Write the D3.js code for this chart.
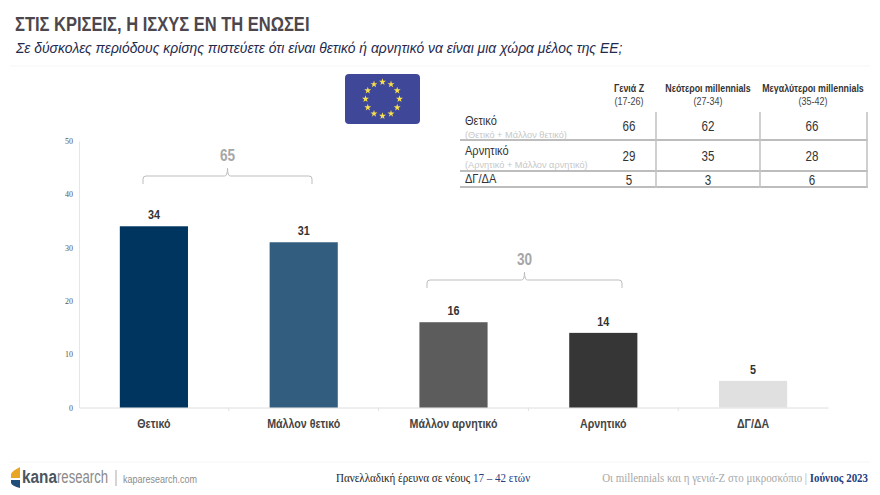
<!DOCTYPE html>
<html lang="el">
<head>
<meta charset="utf-8">
<script src="https://cdn.jsdelivr.net/npm/d3@7"></script>
<style>
  html, body { margin: 0; background: #fff; }
  svg { display: block; }
  text { font-family: "Liberation Sans", Arial, sans-serif; }
  text.serif { font-family: "Liberation Serif", serif; }
</style>
</head>
<body>
<svg id="chart" width="880" height="495"></svg>
<script>
const categories = ["Θετικό", "Μάλλον θετικό", "Μάλλον αρνητικό", "Αρνητικό", "ΔΓ/ΔΑ"];
const values = [34, 31, 16, 14, 5];
const barColors = ["#00355f", "#325d7f", "#5c5c5c", "#363636", "#e0e0e0"];
const yTicks = [0, 10, 20, 30, 40, 50];

// brackets above the bars
const groupTotals = [65, 30];

const tableHeads = ["Γενιά Ζ", "Νεότεροι millennials", "Μεγαλύτεροι millennials"];
const tableAges = ["(17-26)", "(27-34)", "(35-42)"];
const rowLabels = ["Θετικό", "Αρνητικό", "ΔΓ/ΔΑ"];
const rowNotes = ["(Θετικό + Μάλλον θετικό)", "(Αρνητικό + Μάλλον αρνητικό)", ""];
const genZ = [66, 29, 5];
const youngerMill = [62, 35, 3];
const olderMill = [66, 28, 6];

const svg = d3.select("#chart");

// no narrow font installed, so squeeze the text around its own x
function squeeze(sel, k) {
  sel.attr("transform", function () {
    const px = +this.getAttribute("x") || 0;
    return `translate(${px},0) scale(${k},1) translate(${-px},0)`;
  });
  return sel;
}

// header
svg.append("text").attr("x", 15).attr("y", 31)
  .attr("font-size", 21).attr("font-weight", 700).attr("fill", "#4d474d")
  .text("ΣΤΙΣ ΚΡΙΣΕΙΣ, Η ΙΣΧΥΣ ΕΝ ΤΗ ΕΝΩΣΕΙ")
  .call(squeeze, 0.787);
svg.append("text").attr("x", 16).attr("y", 53)
  .attr("font-size", 14.3).attr("font-style", "italic").attr("fill", "#1f2a4d")
  .text("Σε δύσκολες περιόδους κρίσης πιστεύετε ότι είναι θετικό ή αρνητικό να είναι μια χώρα μέλος της ΕΕ;")
  .call(squeeze, 0.97);
svg.append("line").attr("x1", 10).attr("x2", 870).attr("y1", 66).attr("y2", 66).attr("stroke", "#f6f6f6");

// scales
const x = d3.scaleBand().domain(categories).range([79, 828]);
const y = d3.scaleLinear().domain([0, 50]).range([407.5, 141]);
const barW = x.bandwidth() * 0.455;
const cx = d => x(d) + x.bandwidth() / 2;

// axes
const yAxis = svg.append("g").attr("transform", "translate(79,0)")
  .call(d3.axisLeft(y).tickValues(yTicks).tickSize(0).tickPadding(6));
yAxis.select("path").attr("stroke", "#e6e6e6");
yAxis.selectAll("text").attr("class", "serif").attr("font-size", 8).attr("fill", "#555");

const xAxis = svg.append("g").attr("transform", "translate(0,407.5)")
  .call(d3.axisBottom(x).tickSize(0).tickPadding(11));
xAxis.select("path").attr("stroke", "#dedede");
xAxis.selectAll("text").attr("font-size", 13).attr("font-weight", 700).attr("fill", "#444").call(squeeze, 0.82);
svg.append("g").selectAll("line").data(categories.slice(1)).join("line")
  .attr("x1", d => x(d)).attr("x2", d => x(d)).attr("y1", 407.5).attr("y2", 411).attr("stroke", "#e2e2e2");

// bars
svg.append("g").selectAll("rect").data(categories).join("rect")
  .attr("x", d => cx(d) - barW / 2).attr("width", barW)
  .attr("y", (d, i) => y(values[i])).attr("height", (d, i) => y(0) - y(values[i]))
  .attr("fill", (d, i) => barColors[i]);
svg.append("g").selectAll("text").data(categories).join("text")
  .attr("x", cx).attr("y", (d, i) => y(values[i]) - 7)
  .attr("text-anchor", "middle").attr("font-size", 13.5).attr("font-weight", 700).attr("fill", "#333")
  .text((d, i) => values[i])
  .call(squeeze, 0.8);

// brackets
const bracketLeft = [143, 427], bracketRight = [312, 622], bracketTop = [176, 280];
groupTotals.forEach((total, i) => {
  const x0 = bracketLeft[i], x1 = bracketRight[i], top = bracketTop[i];
  const mid = (x0 + x1) / 2;
  const p = d3.path();
  p.moveTo(x0, top + 8);
  p.lineTo(x0, top + 3);
  p.quadraticCurveTo(x0, top, x0 + 3, top);
  p.lineTo(mid - 3, top);
  p.quadraticCurveTo(mid, top, mid, top - 8);
  p.quadraticCurveTo(mid, top, mid + 3, top);
  p.lineTo(x1 - 3, top);
  p.quadraticCurveTo(x1, top, x1, top + 3);
  p.lineTo(x1, top + 8);
  svg.append("path").attr("d", p.toString()).attr("fill", "none").attr("stroke", "#bdbdbd").attr("stroke-width", 1);
  svg.append("text").attr("x", mid).attr("y", top - 14.5)
    .attr("text-anchor", "middle").attr("font-size", 17).attr("font-weight", 700).attr("fill", "#a6a6a6")
    .text(total)
    .call(squeeze, 0.8);
});

// EU flag
const flag = svg.append("g");
flag.append("rect").attr("x", 345).attr("y", 74).attr("width", 75).attr("height", 50).attr("rx", 4).attr("fill", "#3f4798");
const star = d3.symbol().type(d3.symbolStar).size(15);
flag.selectAll("path").data(d3.range(12)).join("path")
  .attr("d", star)
  .attr("fill", "#f7e04b")
  .attr("transform", d => {
    const a = d * Math.PI / 6;
    return `translate(${382.5 + 17 * Math.sin(a)},${99 - 17 * Math.cos(a)})`;
  });

// table
const headX = [629, 708, 813];
const colX = [629, 708, 812];
const colValues = [genZ, youngerMill, olderMill];
const rowBottom = [140, 171, 187];
const labelBase = [125, 155, 183.5];
const noteBase = [138, 168];
const valueBase = [131, 161, 185];
const table = svg.append("g");
tableHeads.forEach((h, i) => {
  table.append("text").attr("x", headX[i]).attr("y", 92).attr("text-anchor", "middle")
    .attr("font-size", 10.3).attr("font-weight", 700).attr("fill", "#333").text(h).call(squeeze, 0.86);
  table.append("text").attr("x", headX[i]).attr("y", 105).attr("text-anchor", "middle")
    .attr("font-size", 10.3).attr("fill", "#444").text(tableAges[i]).call(squeeze, 0.87);
  colValues[i].forEach((v, r) => {
    table.append("text").attr("x", colX[i]).attr("y", valueBase[r]).attr("text-anchor", "middle")
      .attr("font-size", 14.5).attr("fill", "#333").text(v).call(squeeze, 0.8);
  });
});
rowLabels.forEach((label, r) => {
  table.append("text").attr("x", 465).attr("y", labelBase[r])
    .attr("font-size", 13).attr("fill", "#333").text(label).call(squeeze, 0.85);
  if (rowNotes[r] !== "") {
    table.append("text").attr("x", 465).attr("y", noteBase[r])
      .attr("font-size", 9.2).attr("fill", "#c8c8c8").text(rowNotes[r]);
  }
  table.append("line").attr("x1", 460).attr("x2", 868).attr("y1", rowBottom[r]).attr("y2", rowBottom[r])
    .attr("stroke", "#bdbdbd").attr("stroke-width", 1.8);
});
[656, 760, 867].forEach(vx => {
  table.append("line").attr("x1", vx).attr("x2", vx).attr("y1", 112).attr("y2", 188)
    .attr("stroke", "#c4c4c4").attr("stroke-width", 1.6);
});

// footer
svg.append("line").attr("x1", 10).attr("x2", 870).attr("y1", 462).attr("y2", 462).attr("stroke", "#f6f6f6");
const logo = svg.append("g");
logo.append("path").attr("d", "M11 478 L11 474 Q12 471 20 467 L20 478 Z").attr("fill", "#e9a526");
logo.append("path").attr("d", "M11 480 L20 480 L20 488 Q12 486 11 483 Z").attr("fill", "#1f4e79");
logo.append("text").attr("x", 22).attr("y", 483).attr("font-size", 18.5).attr("font-weight", 700)
  .attr("fill", "#4a5560").text("kana").call(squeeze, 0.83);
logo.append("text").attr("x", 57).attr("y", 483).attr("font-size", 18.5)
  .attr("fill", "#8a8a8a").text("research").call(squeeze, 0.71);
logo.append("line").attr("x1", 116).attr("x2", 116).attr("y1", 470).attr("y2", 486).attr("stroke", "#aaa");
logo.append("text").attr("x", 123).attr("y", 483).attr("font-size", 11).attr("fill", "#8c8c8c")
  .text("kaparesearch.com").call(squeeze, 0.82);

const f1 = svg.append("text").attr("class", "serif").attr("x", 336).attr("y", 482).attr("font-size", 11.5).attr("fill", "#222");
f1.append("tspan").text("Πανελλαδική έρευνα σε νέους ");
f1.append("tspan").attr("fill", "#27407f").text("17 – 42 ετών");
f1.call(squeeze, 0.96);
const f2 = svg.append("text").attr("class", "serif").attr("x", 868).attr("y", 482).attr("text-anchor", "end").attr("font-size", 11.5).attr("fill", "#a8a8a8");
f2.append("tspan").text("Οι millennials και η γενιά-Ζ στο μικροσκόπιο | ");
f2.append("tspan").attr("fill", "#27407f").attr("font-weight", 700).text("Ιούνιος 2023");
f2.call(squeeze, 0.95);
</script>
</body>
</html>
